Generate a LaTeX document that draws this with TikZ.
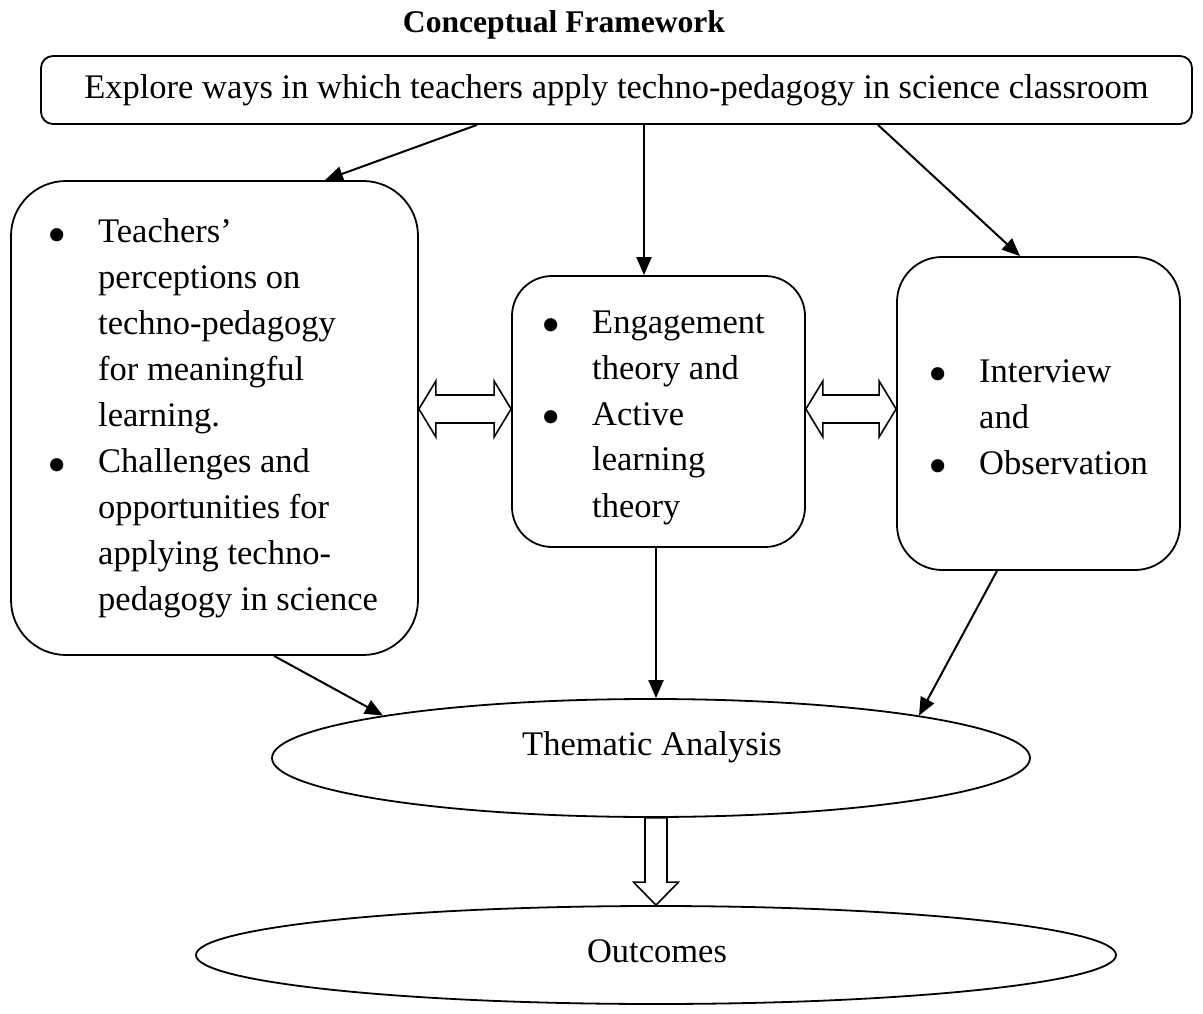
\documentclass[tikz,border=0pt]{standalone}
\usepackage{fontspec}
\usepackage{graphicx}
\setmainfont{Liberation Serif}
\usetikzlibrary{arrows.meta, calc, shapes.geometric}
\newcommand{\bigbullet}{\makebox[12pt]{\raisebox{-10.5pt}{\scalebox{1.6}{\textbullet}}}}

\begin{document}
\begin{tikzpicture}[x=1pt, y=-1pt,
        every node/.style={font=\fontsize{34.5}{46}\selectfont, inner sep=0pt},
        box/.style={draw, line width=1.8pt, rounded corners=#1},
        oval/.style={draw, ellipse, line width=1.8pt},
        btext/.style={anchor=base west},
        arr/.style={draw, line width=2pt, -{Triangle[length=18pt, width=15pt]}},
        hollow/.style={draw, line width=1.6pt, fill=white}
    ]
    \useasboundingbox (0,0) rectangle (1203,1014);
    \node[anchor=base, font=\fontsize{31.6}{38}\selectfont\bfseries] (title) at (564,33) {Conceptual Framework};
    \node[box=12pt, minimum width=1151pt, minimum height=68pt] (explore) at (616.5,90)
        {Explore ways in which teachers apply techno-pedagogy in science classroom};
    \node[box=55pt, minimum width=407pt, minimum height=474pt] (lbox) at (214.5,418) {};
    \node[box=40pt, minimum width=293pt, minimum height=271pt] (mbox) at (658.5,411.5) {};
    \node[box=45pt, minimum width=283pt, minimum height=313pt] (rbox) at (1038.5,413.5) {};
    \node[btext] (ltext) at (51,243) {\begin{tabular}[t]{@{}p{47pt}@{}l@{}}
        \bigbullet & Teachers’ \\ & perceptions on \\ & techno-pedagogy \\ & for meaningful \\ & learning. \\
        \bigbullet & Challenges and \\ & opportunities for \\ & applying techno- \\ & pedagogy in science
        \end{tabular}};
    \node[btext] (mtext) at (545,333) {\begin{tabular}[t]{@{}p{47pt}@{}l@{}}
        \bigbullet & Engagement \\ & theory and \\
        \bigbullet & Active \\ & learning \\ & theory
        \end{tabular}};
    \node[btext] (rtext) at (932,382) {\begin{tabular}[t]{@{}p{47pt}@{}l@{}}
        \bigbullet & Interview \\ & and \\
        \bigbullet & Observation
        \end{tabular}};
    \node[oval, minimum width=758pt, minimum height=118pt] (thematic) at (651,758) {};
    \node[anchor=base] (thmtext) at (652,755) {Thematic Analysis};
    \node[oval, minimum width=920pt, minimum height=98pt] (outcomes) at (656,955) {};
    \node[anchor=base] (outtext) at (657,962) {Outcomes};
    % arrows from the top box
    \draw[arr] ([xshift=-139.5pt]explore.south) -- ([xshift=110.5pt]lbox.north);
    \draw[arr] ([xshift=27.5pt]explore.south) -- ([xshift=-14.5pt]mbox.north);
    \draw[arr] ([xshift=261.5pt]explore.south) -- ([xshift=-18.5pt]rbox.north);
    % arrows into the analysis
    \draw[arr] ([xshift=59.5pt]lbox.south) -- (thematic.171);
    \draw[arr] ([xshift=-2.5pt]mbox.south) -- ([xshift=5pt]thematic.north);
    \draw[arr] ([xshift=-41.5pt]rbox.south) -- (thematic.9);
    % hollow block arrows
    \coordinate (dbl) at (0,409);
    \coordinate (d1) at (lbox.east |- dbl);
    \coordinate (d2) at (mbox.west |- dbl);
    \coordinate (d3) at (mbox.east |- dbl);
    \coordinate (d4) at (rbox.west |- dbl);
    \draw[hollow] (d1) -- ++(17,-28) -- ++(0,14) -- ($(d2)+(-17,-14)$) -- ++(0,-14) -- (d2)
        -- ++(-17,28) -- ++(0,-14) -- ($(d1)+(17,14)$) -- ++(0,14) -- cycle;
    \draw[hollow] (d3) -- ++(17,-28) -- ++(0,14) -- ($(d4)+(-17,-14)$) -- ++(0,-14) -- (d4)
        -- ++(-17,28) -- ++(0,-14) -- ($(d3)+(17,14)$) -- ++(0,14) -- cycle;
    \coordinate (dtop) at (outcomes.north |- thematic.south);
    \draw[hollow] (outcomes.north) -- ++(-22.5,-23) -- ++(11.5,0) -- ($(dtop)+(-11,0)$)
        -- ($(dtop)+(11,0)$) -- ($(outcomes.north)+(11,-23)$) -- ++(11.5,0) -- cycle;
\end{tikzpicture}
\end{document}
